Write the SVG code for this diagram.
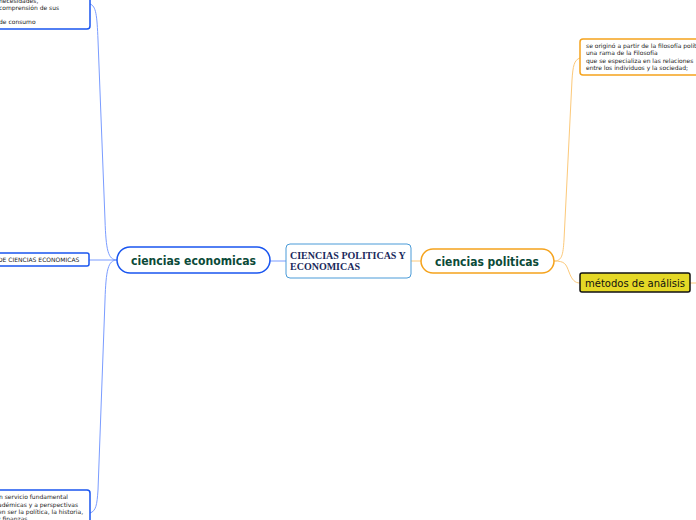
<svg xmlns="http://www.w3.org/2000/svg" width="696" height="520" viewBox="0 0 696 520">
<style>
.sm{font-family:"DejaVu Sans",Verdana,sans-serif;font-size:6px;fill:#222}
.main{font-family:"DejaVu Sans",Verdana,sans-serif;font-size:11.5px;font-weight:bold;fill:#0b4a38}
.bl{fill:#fff;stroke:#1a56f0;stroke-width:1.5}
.or{fill:#fff;stroke:#f5a31d;stroke-width:1.5}
.cb{fill:none;stroke:#7a9cff;stroke-width:1}
.co{fill:none;stroke:#fcc97a;stroke-width:1}
</style>
<rect width="696" height="520" fill="#fff"/>
<g id="connectors">
<path class="cb" d="M270 261 H286"/>
<path class="co" d="M411 261 H421"/>
<path class="cb" d="M117 260 C108 260 106 250 105 220 L98 40 C97 15 96 6 90 4"/>
<path class="cb" d="M117 260 H89"/>
<path class="cb" d="M117 260 C108 260 106 270 105 300 L98 490 C97 505 96 511 90 513"/>
<path class="co" d="M554 261 C562 261 563 255 564 240 L572 80 C573 66 574 60 580 58"/>
<path class="co" d="M554 261 C565 261 566 264 569 272 C572 280 575 283 580 283"/>
<path class="co" d="M690 283 H696"/>
</g>
<g id="n-center">
<rect x="286" y="244" width="125" height="34" rx="4" fill="#fff" stroke="#4a9bd8" stroke-width="1"/>
<text x="290" y="259" font-family="Liberation Serif,serif" font-size="10" font-weight="bold" fill="#1b2a5c">CIENCIAS POLITICAS Y</text>
<text x="290" y="270" font-family="Liberation Serif,serif" font-size="10" font-weight="bold" fill="#1b2a5c">ECONOMICAS</text>
</g>
<g id="n-econ">
<rect class="bl" x="117" y="247" width="153" height="26" rx="13"/>
<text class="main" x="131" y="264.5" textLength="125" lengthAdjust="spacingAndGlyphs">ciencias economicas</text>
</g>
<g id="n-pol">
<rect class="or" x="421" y="249" width="133" height="24" rx="12"/>
<text class="main" x="435" y="265.5" textLength="104" lengthAdjust="spacingAndGlyphs">ciencias politicas</text>
</g>
<g id="n-econ-top">
<rect class="bl" x="-20" y="-10" width="110" height="39" rx="3"/>
<text class="sm" x="-1" y="3">necesidades,</text>
<text class="sm" x="-1" y="10">comprensión de sus</text>
<text class="sm" x="-1" y="24">de consumo</text>
</g>
<g id="n-econ-mid">
<rect class="bl" x="-20" y="253" width="109" height="13" rx="2"/>
<text class="sm" x="-2" y="262">DE CIENCIAS ECONOMICAS</text>
</g>
<g id="n-econ-bot">
<rect class="bl" x="-20" y="490" width="110" height="40" rx="3"/>
<text class="sm" x="-1" y="499">n servicio fundamental</text>
<text class="sm" x="-2" y="507">adémicas y a perspectivas</text>
<text class="sm" x="-2" y="514">en ser la política, la historia,</text>
<text class="sm" x="-3" y="521">y finanzas</text>
</g>
<g id="n-pol-top">
<rect class="or" x="580" y="39" width="130" height="36" rx="3"/>
<text class="sm" x="586" y="48">se originó a partir de la filosofía política,</text>
<text class="sm" x="586" y="55">una rama de la Filosofía</text>
<text class="sm" x="586" y="63">que se especializa en las relaciones</text>
<text class="sm" x="586" y="70">entre los individuos y la sociedad;</text>
</g>
<g id="n-metodos">
<rect x="580" y="273" width="110" height="19" rx="2" fill="#e5d826" stroke="#111" stroke-width="1.5"/>
<text x="585" y="287" font-family="DejaVu Sans,Verdana,sans-serif" font-size="10.5" fill="#111" textLength="100" lengthAdjust="spacingAndGlyphs">métodos de análisis</text>
</g>
</svg>
